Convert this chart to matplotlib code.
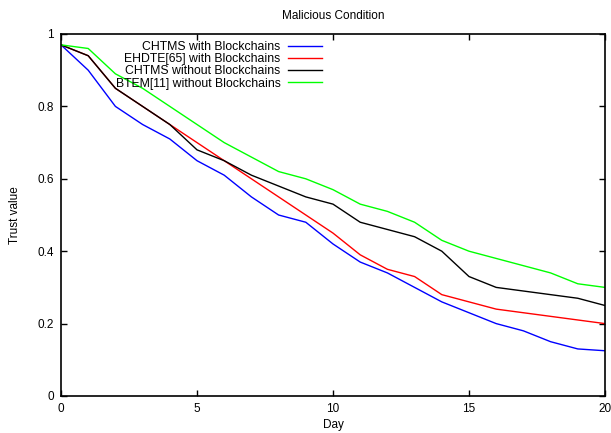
import matplotlib
matplotlib.use("Agg")
import matplotlib.pyplot as plt

plt.rcParams['font.family'] = ['Liberation Sans', 'DejaVu Sans']

days = list(range(21))
chtms_bc = [0.97, 0.90, 0.80, 0.75, 0.71, 0.65, 0.61, 0.55, 0.50, 0.48, 0.42,
            0.37, 0.34, 0.30, 0.26, 0.23, 0.20, 0.18, 0.15, 0.13, 0.125]
ehdte_bc = [0.97, 0.94, 0.85, 0.80, 0.75, 0.70, 0.65, 0.60, 0.55, 0.50, 0.45,
            0.39, 0.35, 0.33, 0.28, 0.26, 0.24, 0.23, 0.22, 0.21, 0.20]
chtms_nobc = [0.97, 0.94, 0.85, 0.80, 0.75, 0.68, 0.65, 0.61, 0.58, 0.55, 0.53,
              0.48, 0.46, 0.44, 0.40, 0.33, 0.30, 0.29, 0.28, 0.27, 0.25]
btem_nobc = [0.97, 0.96, 0.89, 0.85, 0.80, 0.75, 0.70, 0.66, 0.62, 0.60, 0.57,
             0.53, 0.51, 0.48, 0.43, 0.40, 0.38, 0.36, 0.34, 0.31, 0.30]

labels = ["CHTMS with Blockchains", "EHDTE[65] with Blockchains",
          "CHTMS without Blockchains", "BTEM[11] without Blockchains"]
colors = ["#0000ff", "#ff0000", "#000000", "#00ff00"]
xticks = [0, 5, 10, 15, 20]
yticks = [0, 0.2, 0.4, 0.6, 0.8, 1]

W, H = 611, 433
fig = plt.figure(figsize=(W / 100, H / 100), dpi=100)
ax = fig.add_axes([61 / W, 1 - 396 / H, (605 - 61) / W, (396 - 34) / H])

series = [chtms_bc, ehdte_bc, chtms_nobc, btem_nobc]
for s, lab, c in zip(series, labels, colors):
    ax.plot(days, s, color=c, lw=1.0, label=lab)

ax.set_xlim(0, 20)
ax.set_ylim(0, 1)
ax.set_xticks(xticks)
ax.set_xticklabels([str(t) for t in xticks])
ax.set_yticks(yticks)
ax.set_yticklabels(["0", "0.2", "0.4", "0.6", "0.8", "1"])
ax.tick_params(direction='in', top=True, right=True, length=4, width=1,
               labelsize=8.5, pad=5)
for sp in ax.spines.values():
    sp.set_linewidth(1.2)

ax.set_xlabel("Day", fontsize=8.5, labelpad=3)
ax.set_ylabel("Trust value", fontsize=8.5, labelpad=12)
fig.text(333 / W, 1 - 16 / H, "Malicious Condition", ha='center', va='center', fontsize=8.5)

leg = ax.legend(loc='upper right', bbox_to_anchor=(322 / W, 1 - 41 / H),
                bbox_transform=fig.transFigure, frameon=False, markerfirst=False,
                fontsize=8.8, handlelength=2.8, handletextpad=0.6,
                labelspacing=0.02, borderpad=0, borderaxespad=0)
for t in leg.get_texts():
    t.set_ha('right')

fig.savefig("out.png", dpi=100)
